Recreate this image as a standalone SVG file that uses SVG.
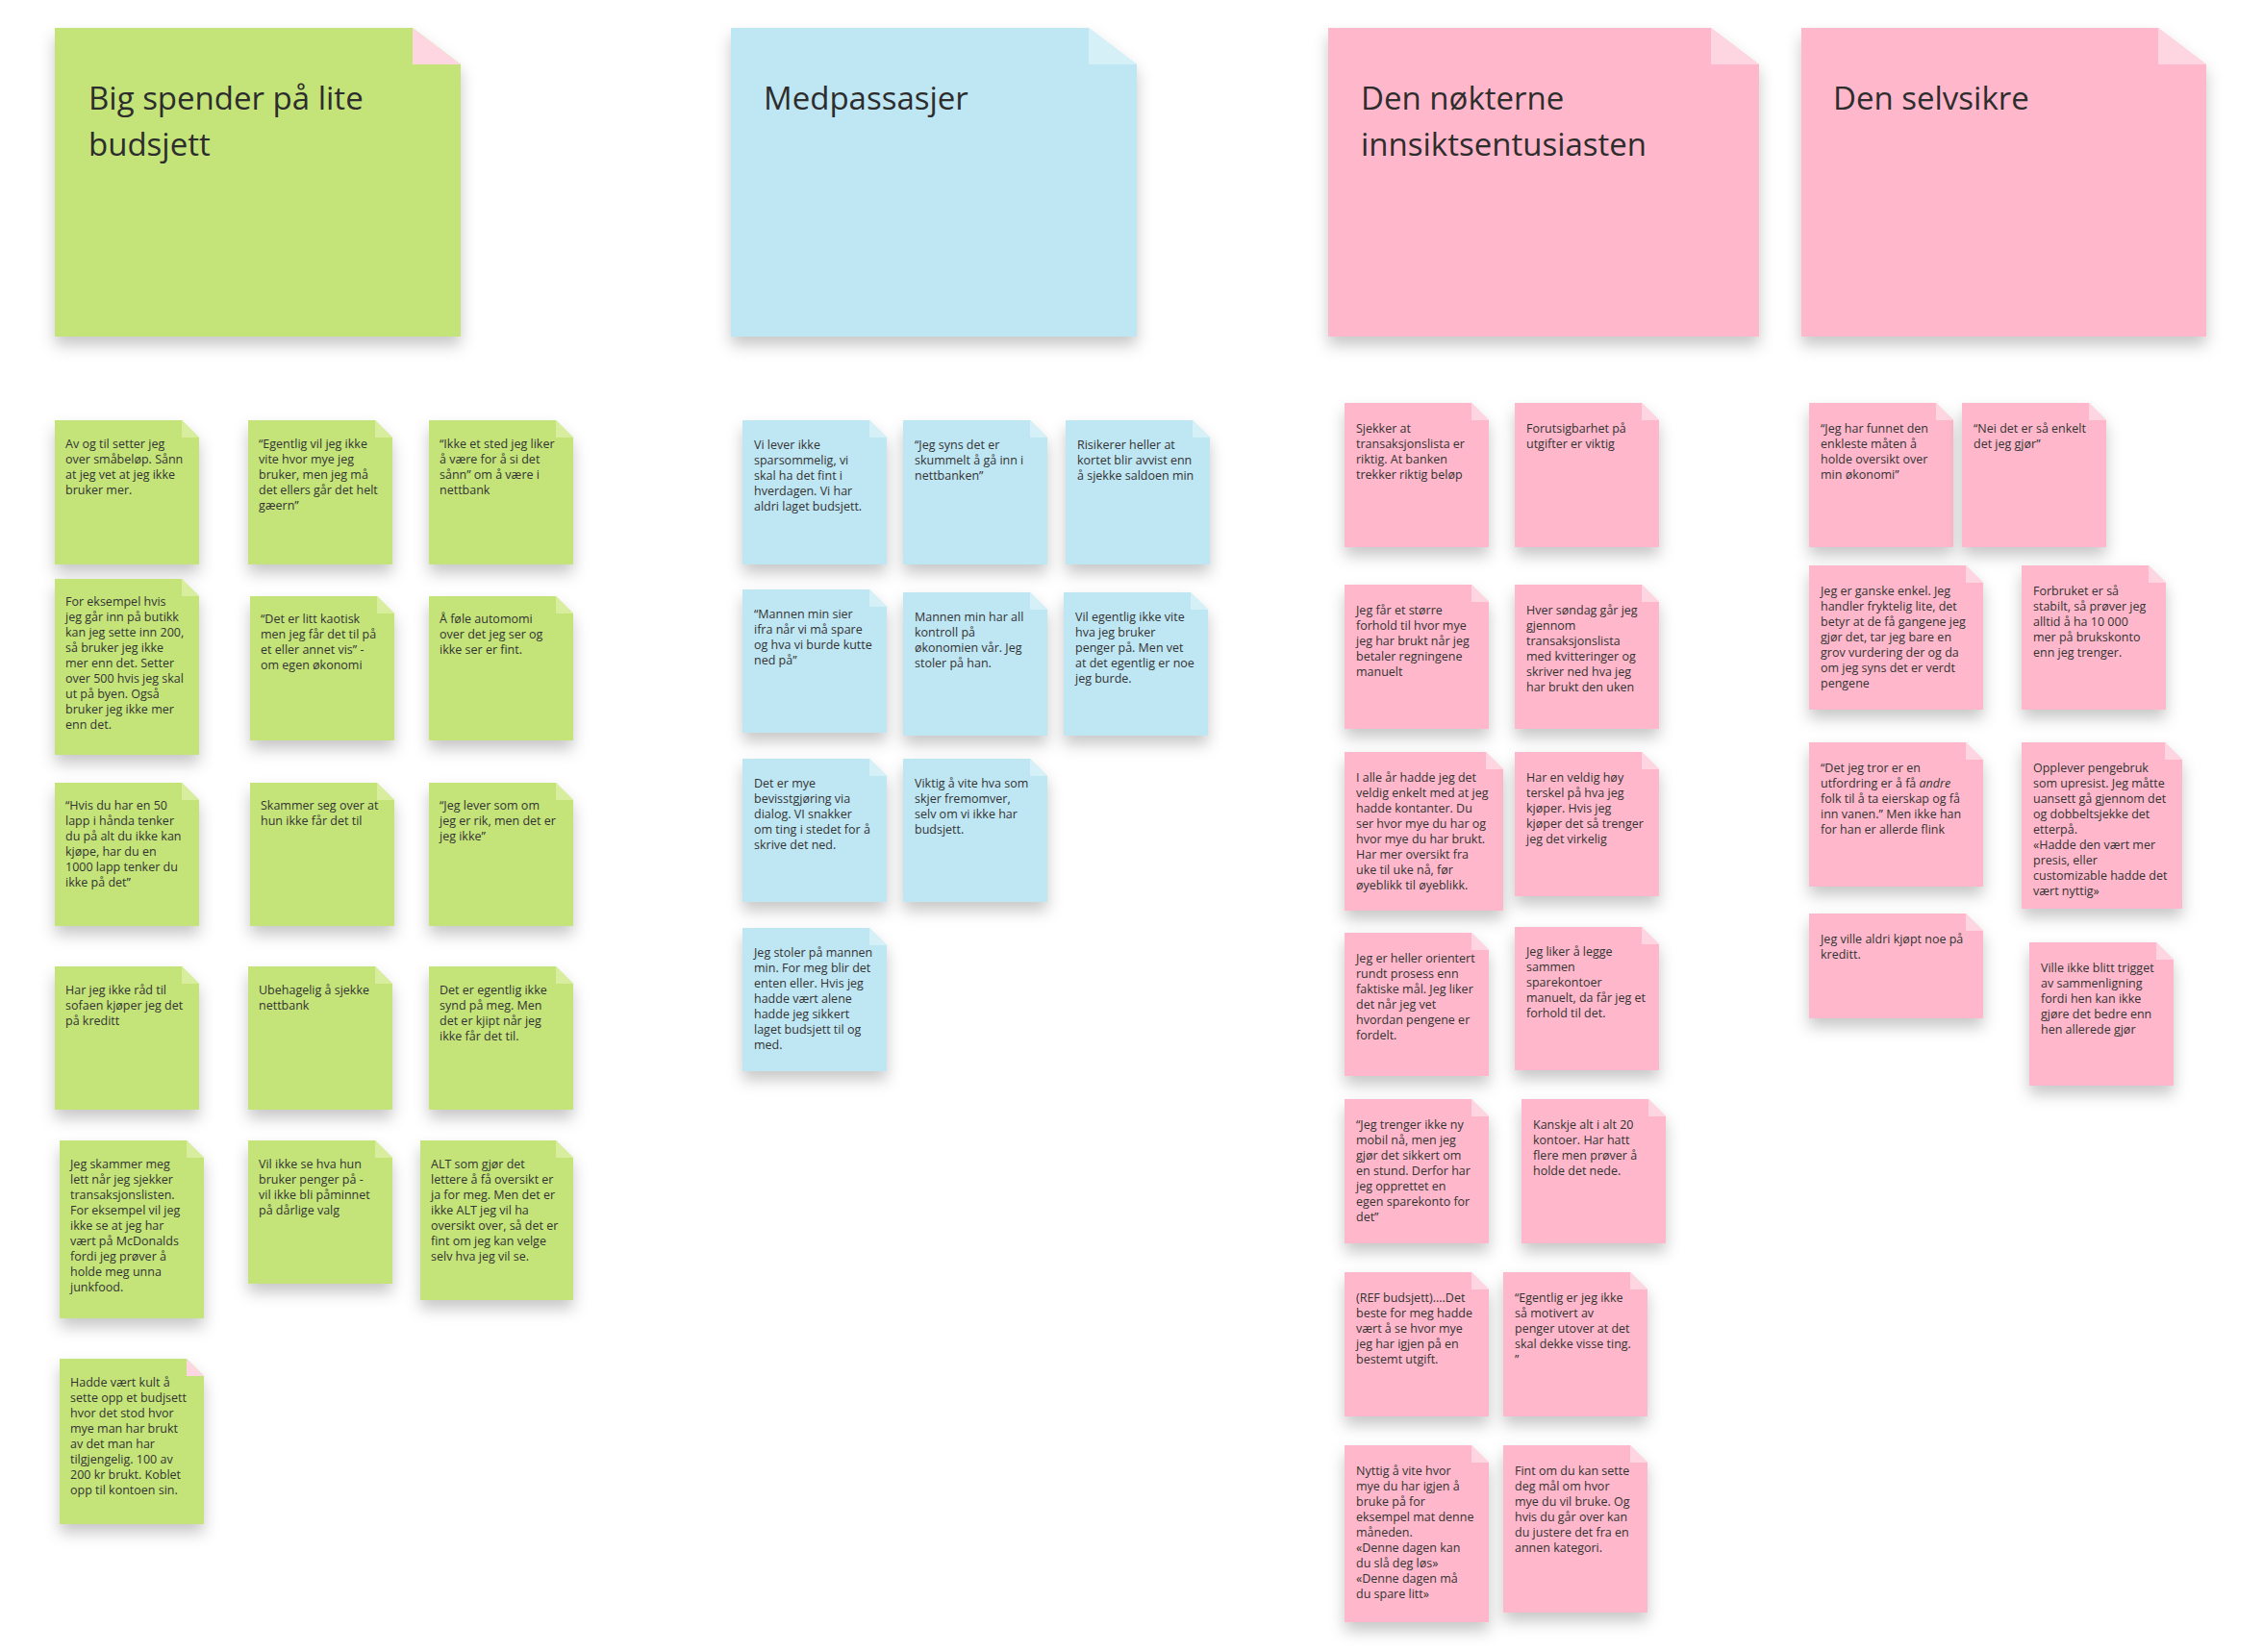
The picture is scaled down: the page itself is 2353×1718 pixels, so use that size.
<svg xmlns="http://www.w3.org/2000/svg" width="2353" height="1718" viewBox="0 0 2353 1718">
<defs>
<filter id="sh" x="-20%" y="-20%" width="140%" height="150%"><feDropShadow dx="0" dy="9" stdDeviation="8" flood-color="#000" flood-opacity="0.22"/></filter>
<style>
.g{fill:#c4e47a}.b{fill:#bfe6f3}.p{fill:#ffb8cb}
.gf{fill:#d8ee9e}.bf{fill:#d6f0f8}.pf{fill:#fdd6e1}
.t{font-family:"Open Sans","Noto Sans","Liberation Sans",sans-serif;font-size:12.5px;fill:#333}
.h{font-family:"Open Sans","Noto Sans","Liberation Sans",sans-serif;font-size:33px;fill:#2d2d2d}
</style>
</defs>
<rect width="2353" height="1718" fill="#fff"/>
<g id="connectors"/>

<!-- headers -->
<g id="h-green"><path class="g" filter="url(#sh)" d="M57 29H429L479 67V350H57Z"/><path class="pf" d="M429 29L479 67H429Z"/><text class="h" x="92" y="114">Big spender på lite<tspan x="92" dy="48">budsjett</tspan></text></g>
<g id="h-blue"><path class="b" filter="url(#sh)" d="M760 29H1132L1182 67V350H760Z"/><path class="bf" d="M1132 29L1182 67H1132Z"/><text class="h" x="794" y="114">Medpassasjer</text></g>
<g id="h-pink1"><path class="p" filter="url(#sh)" d="M1381 29H1779L1829 67V350H1381Z"/><path class="pf" d="M1779 29L1829 67H1779Z"/><text class="h" x="1415" y="114">Den nøkterne<tspan x="1415" dy="48">innsiktsentusiasten</tspan></text></g>
<g id="h-pink2"><path class="p" filter="url(#sh)" d="M1873 29H2244L2294 67V350H1873Z"/><path class="pf" d="M2244 29L2294 67H2244Z"/><text class="h" x="1906" y="114">Den selvsikre</text></g>

<!-- green notes -->
<g id="g1"><path class="g" filter="url(#sh)" d="M57 437H189L207 455V587H57Z"/><path class="gf" d="M189 437L207 455H189Z"/><text class="t" x="68" y="466">Av og til setter jeg<tspan x="68" dy="16">over småbeløp. Sånn</tspan><tspan x="68" dy="16">at jeg vet at jeg ikke</tspan><tspan x="68" dy="16">bruker mer.</tspan></text></g>
<g id="g2"><path class="g" filter="url(#sh)" d="M258 437H390L408 455V587H258Z"/><path class="gf" d="M390 437L408 455H390Z"/><text class="t" x="269" y="466">“Egentlig vil jeg ikke<tspan x="269" dy="16">vite hvor mye jeg</tspan><tspan x="269" dy="16">bruker, men jeg må</tspan><tspan x="269" dy="16">det ellers går det helt</tspan><tspan x="269" dy="16">gæern”</tspan></text></g>
<g id="g3"><path class="g" filter="url(#sh)" d="M446 437H578L596 455V587H446Z"/><path class="gf" d="M578 437L596 455H578Z"/><text class="t" x="457" y="466">“Ikke et sted jeg liker<tspan x="457" dy="16">å være for å si det</tspan><tspan x="457" dy="16">sånn” om å være i</tspan><tspan x="457" dy="16">nettbank</tspan></text></g>
<g id="g4"><path class="g" filter="url(#sh)" d="M57 602H189L207 620V785H57Z"/><path class="gf" d="M189 602L207 620H189Z"/><text class="t" x="68" y="630">For eksempel hvis<tspan x="68" dy="16">jeg går inn på butikk</tspan><tspan x="68" dy="16">kan jeg sette inn 200,</tspan><tspan x="68" dy="16">så bruker jeg ikke</tspan><tspan x="68" dy="16">mer enn det. Setter</tspan><tspan x="68" dy="16">over 500 hvis jeg skal</tspan><tspan x="68" dy="16">ut på byen. Også</tspan><tspan x="68" dy="16">bruker jeg ikke mer</tspan><tspan x="68" dy="16">enn det.</tspan></text></g>
<g id="g5"><path class="g" filter="url(#sh)" d="M260 620H392L410 638V770H260Z"/><path class="gf" d="M392 620L410 638H392Z"/><text class="t" x="271" y="648">“Det er litt kaotisk<tspan x="271" dy="16">men jeg får det til på</tspan><tspan x="271" dy="16">et eller annet vis” -</tspan><tspan x="271" dy="16">om egen økonomi</tspan></text></g>
<g id="g6"><path class="g" filter="url(#sh)" d="M446 620H578L596 638V770H446Z"/><path class="gf" d="M578 620L596 638H578Z"/><text class="t" x="457" y="648">Å føle automomi<tspan x="457" dy="16">over det jeg ser og</tspan><tspan x="457" dy="16">ikke ser er fint.</tspan></text></g>
<g id="g7"><path class="g" filter="url(#sh)" d="M57 814H189L207 832V963H57Z"/><path class="gf" d="M189 814L207 832H189Z"/><text class="t" x="68" y="842">“Hvis du har en 50<tspan x="68" dy="16">lapp i hånda tenker</tspan><tspan x="68" dy="16">du på alt du ikke kan</tspan><tspan x="68" dy="16">kjøpe, har du en</tspan><tspan x="68" dy="16">1000 lapp tenker du</tspan><tspan x="68" dy="16">ikke på det”</tspan></text></g>
<g id="g8"><path class="g" filter="url(#sh)" d="M260 814H392L410 832V963H260Z"/><path class="gf" d="M392 814L410 832H392Z"/><text class="t" x="271" y="842">Skammer seg over at<tspan x="271" dy="16">hun ikke får det til</tspan></text></g>
<g id="g9"><path class="g" filter="url(#sh)" d="M446 814H578L596 832V963H446Z"/><path class="gf" d="M578 814L596 832H578Z"/><text class="t" x="457" y="842">“Jeg lever som om<tspan x="457" dy="16">jeg er rik, men det er</tspan><tspan x="457" dy="16">jeg ikke”</tspan></text></g>
<g id="g10"><path class="g" filter="url(#sh)" d="M57 1005H189L207 1023V1154H57Z"/><path class="gf" d="M189 1005L207 1023H189Z"/><text class="t" x="68" y="1034">Har jeg ikke råd til<tspan x="68" dy="16">sofaen kjøper jeg det</tspan><tspan x="68" dy="16">på kreditt</tspan></text></g>
<g id="g11"><path class="g" filter="url(#sh)" d="M258 1005H390L408 1023V1154H258Z"/><path class="gf" d="M390 1005L408 1023H390Z"/><text class="t" x="269" y="1034">Ubehagelig å sjekke<tspan x="269" dy="16">nettbank</tspan></text></g>
<g id="g12"><path class="g" filter="url(#sh)" d="M446 1005H578L596 1023V1154H446Z"/><path class="gf" d="M578 1005L596 1023H578Z"/><text class="t" x="457" y="1034">Det er egentlig ikke<tspan x="457" dy="16">synd på meg. Men</tspan><tspan x="457" dy="16">det er kjipt når jeg</tspan><tspan x="457" dy="16">ikke får det til.</tspan></text></g>
<g id="g13"><path class="g" filter="url(#sh)" d="M62 1186H194L212 1204V1371H62Z"/><path class="gf" d="M194 1186L212 1204H194Z"/><text class="t" x="73" y="1215">Jeg skammer meg<tspan x="73" dy="16">lett når jeg sjekker</tspan><tspan x="73" dy="16">transaksjonslisten.</tspan><tspan x="73" dy="16">For eksempel vil jeg</tspan><tspan x="73" dy="16">ikke se at jeg har</tspan><tspan x="73" dy="16">vært på McDonalds</tspan><tspan x="73" dy="16">fordi jeg prøver å</tspan><tspan x="73" dy="16">holde meg unna</tspan><tspan x="73" dy="16">junkfood.</tspan></text></g>
<g id="g14"><path class="g" filter="url(#sh)" d="M258 1186H390L408 1204V1335H258Z"/><path class="gf" d="M390 1186L408 1204H390Z"/><text class="t" x="269" y="1215">Vil ikke se hva hun<tspan x="269" dy="16">bruker penger på -</tspan><tspan x="269" dy="16">vil ikke bli påminnet</tspan><tspan x="269" dy="16">på dårlige valg</tspan></text></g>
<g id="g15"><path class="g" filter="url(#sh)" d="M437 1186H578L596 1204V1352H437Z"/><path class="gf" d="M578 1186L596 1204H578Z"/><text class="t" x="448" y="1215">ALT som gjør det<tspan x="448" dy="16">lettere å få oversikt er</tspan><tspan x="448" dy="16">ja for meg. Men det er</tspan><tspan x="448" dy="16">ikke ALT jeg vil ha</tspan><tspan x="448" dy="16">oversikt over, så det er</tspan><tspan x="448" dy="16">fint om jeg kan velge</tspan><tspan x="448" dy="16">selv hva jeg vil se.</tspan></text></g>
<g id="g16"><path class="g" filter="url(#sh)" d="M62 1413H194L212 1431V1585H62Z"/><path class="pf" d="M194 1413L212 1431H194Z"/><text class="t" x="73" y="1442">Hadde vært kult å<tspan x="73" dy="16">sette opp et budjsett</tspan><tspan x="73" dy="16">hvor det stod hvor</tspan><tspan x="73" dy="16">mye man har brukt</tspan><tspan x="73" dy="16">av det man har</tspan><tspan x="73" dy="16">tilgjengelig. 100 av</tspan><tspan x="73" dy="16">200 kr brukt. Koblet</tspan><tspan x="73" dy="16">opp til kontoen sin.</tspan></text></g>

<!-- blue notes -->
<g id="b1"><path class="b" filter="url(#sh)" d="M772 437H904L922 455V587H772Z"/><path class="bf" d="M904 437L922 455H904Z"/><text class="t" x="784" y="467">Vi lever ikke<tspan x="784" dy="16">sparsommelig, vi</tspan><tspan x="784" dy="16">skal ha det fint i</tspan><tspan x="784" dy="16">hverdagen. Vi har</tspan><tspan x="784" dy="16">aldri laget budsjett.</tspan></text></g>
<g id="b2"><path class="b" filter="url(#sh)" d="M939 437H1071L1089 455V587H939Z"/><path class="bf" d="M1071 437L1089 455H1071Z"/><text class="t" x="951" y="467">“Jeg syns det er<tspan x="951" dy="16">skummelt å gå inn i</tspan><tspan x="951" dy="16">nettbanken”</tspan></text></g>
<g id="b3"><path class="b" filter="url(#sh)" d="M1108 437H1240L1258 455V587H1108Z"/><path class="bf" d="M1240 437L1258 455H1240Z"/><text class="t" x="1120" y="467">Risikerer heller at<tspan x="1120" dy="16">kortet blir avvist enn</tspan><tspan x="1120" dy="16">å sjekke saldoen min</tspan></text></g>
<g id="b4"><path class="b" filter="url(#sh)" d="M772 613H904L922 631V762H772Z"/><path class="bf" d="M904 613L922 631H904Z"/><text class="t" x="784" y="643">“Mannen min sier<tspan x="784" dy="16">ifra når vi må spare</tspan><tspan x="784" dy="16">og hva vi burde kutte</tspan><tspan x="784" dy="16">ned på”</tspan></text></g>
<g id="b5"><path class="b" filter="url(#sh)" d="M939 616H1071L1089 634V765H939Z"/><path class="bf" d="M1071 616L1089 634H1071Z"/><text class="t" x="951" y="646">Mannen min har all<tspan x="951" dy="16">kontroll på</tspan><tspan x="951" dy="16">økonomien vår. Jeg</tspan><tspan x="951" dy="16">stoler på han.</tspan></text></g>
<g id="b6"><path class="b" filter="url(#sh)" d="M1106 616H1238L1256 634V765H1106Z"/><path class="bf" d="M1238 616L1256 634H1238Z"/><text class="t" x="1118" y="646">Vil egentlig ikke vite<tspan x="1118" dy="16">hva jeg bruker</tspan><tspan x="1118" dy="16">penger på. Men vet</tspan><tspan x="1118" dy="16">at det egentlig er noe</tspan><tspan x="1118" dy="16">jeg burde.</tspan></text></g>
<g id="b7"><path class="b" filter="url(#sh)" d="M772 789H904L922 807V938H772Z"/><path class="bf" d="M904 789L922 807H904Z"/><text class="t" x="784" y="819">Det er mye<tspan x="784" dy="16">bevisstgjøring via</tspan><tspan x="784" dy="16">dialog. VI snakker</tspan><tspan x="784" dy="16">om ting i stedet for å</tspan><tspan x="784" dy="16">skrive det ned.</tspan></text></g>
<g id="b8"><path class="b" filter="url(#sh)" d="M939 789H1071L1089 807V938H939Z"/><path class="bf" d="M1071 789L1089 807H1071Z"/><text class="t" x="951" y="819">Viktig å vite hva som<tspan x="951" dy="16">skjer fremomver,</tspan><tspan x="951" dy="16">selv om vi ikke har</tspan><tspan x="951" dy="16">budsjett.</tspan></text></g>
<g id="b9"><path class="b" filter="url(#sh)" d="M772 965H904L922 983V1114H772Z"/><path class="bf" d="M904 965L922 983H904Z"/><text class="t" x="784" y="995">Jeg stoler på mannen<tspan x="784" dy="16">min. For meg blir det</tspan><tspan x="784" dy="16">enten eller. Hvis jeg</tspan><tspan x="784" dy="16">hadde vært alene</tspan><tspan x="784" dy="16">hadde jeg sikkert</tspan><tspan x="784" dy="16">laget budsjett til og</tspan><tspan x="784" dy="16">med.</tspan></text></g>

<!-- pink column 1 -->
<g id="p1"><path class="p" filter="url(#sh)" d="M1398 419H1530L1548 437V569H1398Z"/><path class="pf" d="M1530 419L1548 437H1530Z"/><text class="t" x="1410" y="450">Sjekker at<tspan x="1410" dy="16">transaksjonslista er</tspan><tspan x="1410" dy="16">riktig. At banken</tspan><tspan x="1410" dy="16">trekker riktig beløp</tspan></text></g>
<g id="p2"><path class="p" filter="url(#sh)" d="M1575 419H1707L1725 437V569H1575Z"/><path class="pf" d="M1707 419L1725 437H1707Z"/><text class="t" x="1587" y="450">Forutsigbarhet på<tspan x="1587" dy="16">utgifter er viktig</tspan></text></g>
<g id="p3"><path class="p" filter="url(#sh)" d="M1398 608H1530L1548 626V758H1398Z"/><path class="pf" d="M1530 608L1548 626H1530Z"/><text class="t" x="1410" y="639">Jeg får et større<tspan x="1410" dy="16">forhold til hvor mye</tspan><tspan x="1410" dy="16">jeg har brukt når jeg</tspan><tspan x="1410" dy="16">betaler regningene</tspan><tspan x="1410" dy="16">manuelt</tspan></text></g>
<g id="p4"><path class="p" filter="url(#sh)" d="M1575 608H1707L1725 626V758H1575Z"/><path class="pf" d="M1707 608L1725 626H1707Z"/><text class="t" x="1587" y="639">Hver søndag går jeg<tspan x="1587" dy="16">gjennom</tspan><tspan x="1587" dy="16">transaksjonslista</tspan><tspan x="1587" dy="16">med kvitteringer og</tspan><tspan x="1587" dy="16">skriver ned hva jeg</tspan><tspan x="1587" dy="16">har brukt den uken</tspan></text></g>
<g id="p5"><path class="p" filter="url(#sh)" d="M1398 782H1545L1563 800V947H1398Z"/><path class="pf" d="M1545 782L1563 800H1545Z"/><text class="t" x="1410" y="813">I alle år hadde jeg det<tspan x="1410" dy="16">veldig enkelt med at jeg</tspan><tspan x="1410" dy="16">hadde kontanter. Du</tspan><tspan x="1410" dy="16">ser hvor mye du har og</tspan><tspan x="1410" dy="16">hvor mye du har brukt.</tspan><tspan x="1410" dy="16">Har mer oversikt fra</tspan><tspan x="1410" dy="16">uke til uke nå, før</tspan><tspan x="1410" dy="16">øyeblikk til øyeblikk.</tspan></text></g>
<g id="p6"><path class="p" filter="url(#sh)" d="M1575 782H1707L1725 800V932H1575Z"/><path class="pf" d="M1707 782L1725 800H1707Z"/><text class="t" x="1587" y="813">Har en veldig høy<tspan x="1587" dy="16">terskel på hva jeg</tspan><tspan x="1587" dy="16">kjøper. Hvis jeg</tspan><tspan x="1587" dy="16">kjøper det så trenger</tspan><tspan x="1587" dy="16">jeg det virkelig</tspan></text></g>
<g id="p7"><path class="p" filter="url(#sh)" d="M1398 970H1530L1548 988V1119H1398Z"/><path class="pf" d="M1530 970L1548 988H1530Z"/><text class="t" x="1410" y="1001">Jeg er heller orientert<tspan x="1410" dy="16">rundt prosess enn</tspan><tspan x="1410" dy="16">faktiske mål. Jeg liker</tspan><tspan x="1410" dy="16">det når jeg vet</tspan><tspan x="1410" dy="16">hvordan pengene er</tspan><tspan x="1410" dy="16">fordelt.</tspan></text></g>
<g id="p8"><path class="p" filter="url(#sh)" d="M1575 964H1707L1725 982V1113H1575Z"/><path class="pf" d="M1707 964L1725 982H1707Z"/><text class="t" x="1587" y="994">Jeg liker å legge<tspan x="1587" dy="16">sammen</tspan><tspan x="1587" dy="16">sparekontoer</tspan><tspan x="1587" dy="16">manuelt, da får jeg et</tspan><tspan x="1587" dy="16">forhold til det.</tspan></text></g>
<g id="p9"><path class="p" filter="url(#sh)" d="M1398 1143H1530L1548 1161V1293H1398Z"/><path class="pf" d="M1530 1143L1548 1161H1530Z"/><text class="t" x="1410" y="1174">“Jeg trenger ikke ny<tspan x="1410" dy="16">mobil nå, men jeg</tspan><tspan x="1410" dy="16">gjør det sikkert om</tspan><tspan x="1410" dy="16">en stund. Derfor har</tspan><tspan x="1410" dy="16">jeg opprettet en</tspan><tspan x="1410" dy="16">egen sparekonto for</tspan><tspan x="1410" dy="16">det”</tspan></text></g>
<g id="p10"><path class="p" filter="url(#sh)" d="M1582 1143H1714L1732 1161V1293H1582Z"/><path class="pf" d="M1714 1143L1732 1161H1714Z"/><text class="t" x="1594" y="1174">Kanskje alt i alt 20<tspan x="1594" dy="16">kontoer. Har hatt</tspan><tspan x="1594" dy="16">flere men prøver å</tspan><tspan x="1594" dy="16">holde det nede.</tspan></text></g>
<g id="p11"><path class="p" filter="url(#sh)" d="M1398 1323H1530L1548 1341V1473H1398Z"/><path class="pf" d="M1530 1323L1548 1341H1530Z"/><text class="t" x="1410" y="1354">(REF budsjett)....Det<tspan x="1410" dy="16">beste for meg hadde</tspan><tspan x="1410" dy="16">vært å se hvor mye</tspan><tspan x="1410" dy="16">jeg har igjen på en</tspan><tspan x="1410" dy="16">bestemt utgift.</tspan></text></g>
<g id="p12"><path class="p" filter="url(#sh)" d="M1563 1323H1695L1713 1341V1473H1563Z"/><path class="pf" d="M1695 1323L1713 1341H1695Z"/><text class="t" x="1575" y="1354">“Egentlig er jeg ikke<tspan x="1575" dy="16">så motivert av</tspan><tspan x="1575" dy="16">penger utover at det</tspan><tspan x="1575" dy="16">skal dekke visse ting.</tspan><tspan x="1575" dy="16">”</tspan></text></g>
<g id="p13"><path class="p" filter="url(#sh)" d="M1398 1503H1530L1548 1521V1687H1398Z"/><path class="pf" d="M1530 1503L1548 1521H1530Z"/><text class="t" x="1410" y="1534">Nyttig å vite hvor<tspan x="1410" dy="16">mye du har igjen å</tspan><tspan x="1410" dy="16">bruke på for</tspan><tspan x="1410" dy="16">eksempel mat denne</tspan><tspan x="1410" dy="16">måneden.</tspan><tspan x="1410" dy="16">«Denne dagen kan</tspan><tspan x="1410" dy="16">du slå deg løs»</tspan><tspan x="1410" dy="16">«Denne dagen må</tspan><tspan x="1410" dy="16">du spare litt»</tspan></text></g>
<g id="p14"><path class="p" filter="url(#sh)" d="M1563 1503H1695L1713 1521V1677H1563Z"/><path class="pf" d="M1695 1503L1713 1521H1695Z"/><text class="t" x="1575" y="1534">Fint om du kan sette<tspan x="1575" dy="16">deg mål om hvor</tspan><tspan x="1575" dy="16">mye du vil bruke. Og</tspan><tspan x="1575" dy="16">hvis du går over kan</tspan><tspan x="1575" dy="16">du justere det fra en</tspan><tspan x="1575" dy="16">annen kategori.</tspan></text></g>

<!-- pink column 2 -->
<g id="q1"><path class="p" filter="url(#sh)" d="M1881 419H2013L2031 437V569H1881Z"/><path class="pf" d="M2013 419L2031 437H2013Z"/><text class="t" x="1893" y="450">“Jeg har funnet den<tspan x="1893" dy="16">enkleste måten å</tspan><tspan x="1893" dy="16">holde oversikt over</tspan><tspan x="1893" dy="16">min økonomi”</tspan></text></g>
<g id="q2"><path class="p" filter="url(#sh)" d="M2040 419H2172L2190 437V569H2040Z"/><path class="pf" d="M2172 419L2190 437H2172Z"/><text class="t" x="2052" y="450">“Nei det er så enkelt<tspan x="2052" dy="16">det jeg gjør”</tspan></text></g>
<g id="q3"><path class="p" filter="url(#sh)" d="M1881 588H2044L2062 606V738H1881Z"/><path class="pf" d="M2044 588L2062 606H2044Z"/><text class="t" x="1893" y="619">Jeg er ganske enkel. Jeg<tspan x="1893" dy="16">handler fryktelig lite, det</tspan><tspan x="1893" dy="16">betyr at de få gangene jeg</tspan><tspan x="1893" dy="16">gjør det, tar jeg bare en</tspan><tspan x="1893" dy="16">grov vurdering der og da</tspan><tspan x="1893" dy="16">om jeg syns det er verdt</tspan><tspan x="1893" dy="16">pengene</tspan></text></g>
<g id="q4"><path class="p" filter="url(#sh)" d="M2102 588H2234L2252 606V738H2102Z"/><path class="pf" d="M2234 588L2252 606H2234Z"/><text class="t" x="2114" y="619">Forbruket er så<tspan x="2114" dy="16">stabilt, så prøver jeg</tspan><tspan x="2114" dy="16">alltid å ha 10 000</tspan><tspan x="2114" dy="16">mer på brukskonto</tspan><tspan x="2114" dy="16">enn jeg trenger.</tspan></text></g>
<g id="q5"><path class="p" filter="url(#sh)" d="M1881 772H2044L2062 790V922H1881Z"/><path class="pf" d="M2044 772L2062 790H2044Z"/><text class="t" x="1893" y="803">“Det jeg tror er en<tspan x="1893" dy="16">utfordring er å få <tspan font-style="italic">andre</tspan></tspan><tspan x="1893" dy="16">folk til å ta eierskap og få</tspan><tspan x="1893" dy="16">inn vanen.” Men ikke han</tspan><tspan x="1893" dy="16">for han er allerde flink</tspan></text></g>
<g id="q6"><path class="p" filter="url(#sh)" d="M2102 772H2251L2269 790V945H2102Z"/><path class="pf" d="M2251 772L2269 790H2251Z"/><text class="t" x="2114" y="803">Opplever pengebruk<tspan x="2114" dy="16">som upresist. Jeg måtte</tspan><tspan x="2114" dy="16">uansett gå gjennom det</tspan><tspan x="2114" dy="16">og dobbeltsjekke det</tspan><tspan x="2114" dy="16">etterpå.</tspan><tspan x="2114" dy="16">«Hadde den vært mer</tspan><tspan x="2114" dy="16">presis, eller</tspan><tspan x="2114" dy="16">customizable hadde det</tspan><tspan x="2114" dy="16">vært nyttig»</tspan></text></g>
<g id="q7"><path class="p" filter="url(#sh)" d="M1881 950H2044L2062 968V1059H1881Z"/><path class="pf" d="M2044 950L2062 968H2044Z"/><text class="t" x="1893" y="981">Jeg ville aldri kjøpt noe på<tspan x="1893" dy="16">kreditt.</tspan></text></g>
<g id="q8"><path class="p" filter="url(#sh)" d="M2110 980H2242L2260 998V1129H2110Z"/><path class="pf" d="M2242 980L2260 998H2242Z"/><text class="t" x="2122" y="1011">Ville ikke blitt trigget<tspan x="2122" dy="16">av sammenligning</tspan><tspan x="2122" dy="16">fordi hen kan ikke</tspan><tspan x="2122" dy="16">gjøre det bedre enn</tspan><tspan x="2122" dy="16">hen allerede gjør</tspan></text></g>
</svg>
